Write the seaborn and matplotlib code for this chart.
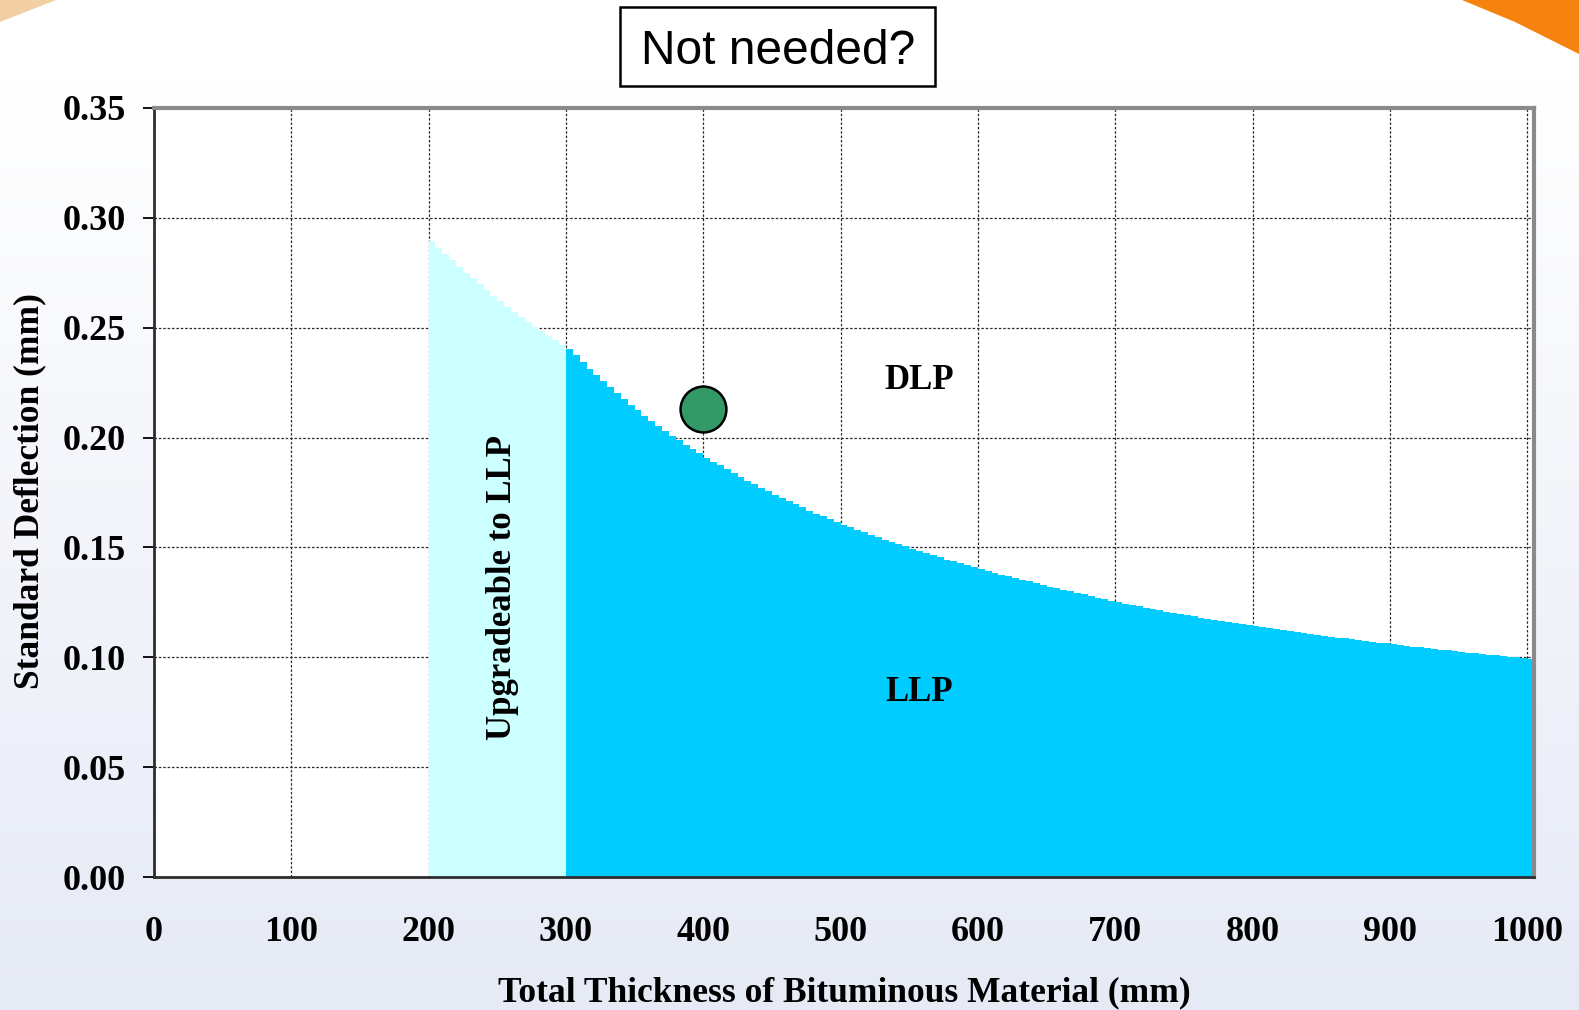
import numpy as np
import pandas as pd
import matplotlib
matplotlib.use("Agg")
import matplotlib.pyplot as plt
import seaborn as sns
from matplotlib.patches import Rectangle, Polygon
from matplotlib.ticker import FormatStrFormatter

# Deflection limit, stepped every 5 mm of bituminous thickness
upgrade_thickness = list(range(200, 300, 5))
upgrade_deflection = [
    0.2895, 0.2865, 0.2836, 0.2807, 0.2778, 0.2751, 0.2724, 0.2697, 0.2671, 0.2646,
    0.2621, 0.2596, 0.2573, 0.2550, 0.2527, 0.2505, 0.2484, 0.2463, 0.2443, 0.2423,
]

llp_thickness = list(range(300, 1005, 5))
llp_deflection = [
    0.2405, 0.2374, 0.2344, 0.2314, 0.2285, 0.2257, 0.2229, 0.2202, 0.2175, 0.2150,
    0.2124, 0.2100, 0.2076, 0.2053, 0.2030, 0.2009, 0.1987, 0.1967, 0.1947, 0.1928,
    0.1909, 0.1891, 0.1873, 0.1855, 0.1838, 0.1821, 0.1804, 0.1788, 0.1772, 0.1756,
    0.1740, 0.1725, 0.1710, 0.1696, 0.1682, 0.1668, 0.1654, 0.1641, 0.1628, 0.1616,
    0.1603, 0.1592, 0.1580, 0.1569, 0.1558, 0.1547, 0.1536, 0.1525, 0.1515, 0.1505,
    0.1494, 0.1484, 0.1474, 0.1465, 0.1455, 0.1445, 0.1436, 0.1427, 0.1418, 0.1409,
    0.1400, 0.1392, 0.1384, 0.1376, 0.1368, 0.1361, 0.1353, 0.1345, 0.1338, 0.1330,
    0.1322, 0.1315, 0.1308, 0.1300, 0.1293, 0.1286, 0.1278, 0.1271, 0.1264, 0.1257,
    0.1250, 0.1244, 0.1238, 0.1232, 0.1226, 0.1220, 0.1214, 0.1208, 0.1203, 0.1197,
    0.1192, 0.1186, 0.1181, 0.1176, 0.1170, 0.1165, 0.1160, 0.1155, 0.1151, 0.1146,
    0.1141, 0.1137, 0.1132, 0.1128, 0.1123, 0.1119, 0.1115, 0.1110, 0.1106, 0.1102,
    0.1098, 0.1094, 0.1090, 0.1086, 0.1082, 0.1078, 0.1074, 0.1070, 0.1067, 0.1063,
    0.1059, 0.1055, 0.1052, 0.1048, 0.1045, 0.1041, 0.1038, 0.1035, 0.1031, 0.1028,
    0.1025, 0.1021, 0.1018, 0.1015, 0.1012, 0.1009, 0.1006, 0.1003, 0.1000, 0.0997,
    0.0994,
]

# Measured pavement
design_thickness = [400]
design_deflection = [0.213]

x_ticks = [0, 100, 200, 300, 400, 500, 600, 700, 800, 900, 1000]
x_tick_marks = [0, 200, 400, 600, 800, 1000]
y_ticks = [0.00, 0.05, 0.10, 0.15, 0.20, 0.25, 0.30, 0.35]

upgrade_df = pd.DataFrame({"thickness": upgrade_thickness, "deflection": upgrade_deflection})
llp_df = pd.DataFrame({"thickness": llp_thickness, "deflection": llp_deflection})
design_df = pd.DataFrame({"thickness": design_thickness, "deflection": design_deflection})

sns.set_theme(style="white")
plt.rcParams["font.family"] = ["Liberation Serif", "DejaVu Serif"]
plt.rcParams["font.weight"] = "bold"
plt.rcParams["text.color"] = "black"
plt.rcParams["axes.labelcolor"] = "black"
plt.rcParams["xtick.color"] = "black"
plt.rcParams["ytick.color"] = "black"

W, H = 1579, 1010
fig = plt.figure(figsize=(W / 100, H / 100), dpi=100)

# Slide background: white fading to pale lavender, orange corner accents
bg = fig.add_axes([0, 0, 1, 1], zorder=-10)
t = np.linspace(0, 1, 400)[:, None]
ramp = np.clip((t - 0.08) / 0.92, 0, 1)
top_c = np.array([1.0, 1.0, 1.0])
bot_c = np.array([0.902, 0.918, 0.962])
img = top_c + (bot_c - top_c) * ramp[..., None]
img = np.repeat(img, 2, axis=1)
bg.imshow(img, aspect="auto", extent=[0, 1, 0, 1], origin="upper")
bg.add_patch(Polygon([(1462 / W, 1), (1, 1), (1, 1 - 54 / H), (1515 / W, 1 - 22 / H)],
                     closed=True, facecolor="#f5830d", edgecolor="none"))
bg.add_patch(Polygon([(0, 1), (56 / W, 1), (0, 1 - 22 / H)],
                     closed=True, facecolor="#f3cfa6", edgecolor="none"))
bg.set_xlim(0, 1)
bg.set_ylim(0, 1)
bg.axis("off")

ax = fig.add_axes([154 / W, 1 - 877 / H, 1380 / W, 769 / H])
ax.set_facecolor("white")

sns.histplot(data=upgrade_df, x="thickness", weights="deflection", binwidth=5,
             binrange=(200, 300), element="step", fill=True, color="#ccffff", alpha=1,
             linewidth=0, ax=ax)
sns.histplot(data=llp_df, x="thickness", weights="deflection", binwidth=5,
             binrange=(300, 1005), element="step", fill=True, color="#00ccff", alpha=1,
             linewidth=0, ax=ax)
sns.scatterplot(data=design_df, x="thickness", y="deflection", s=33 ** 2, color="#339966",
                edgecolor="black", linewidth=1.8, zorder=5, legend=False, ax=ax)

ax.set_xlim(0, 1005)
ax.set_ylim(0, 0.35)
ax.set_xlabel("")
ax.set_ylabel("")

ax.set_xticks(x_ticks)
ax.set_xticks(x_tick_marks, minor=True)
ax.xaxis.remove_overlapping_locs = False
ax.set_yticks(y_ticks)
ax.yaxis.set_major_formatter(FormatStrFormatter("%.2f"))
ax.tick_params(axis="x", which="major", length=0, pad=28, labelsize=26, labelcolor="black")
ax.tick_params(axis="x", which="minor", direction="inout", length=16, width=1.5, color="black")
ax.tick_params(axis="y", which="major", direction="out", length=8, width=1.3, pad=12,
               labelsize=26, labelcolor="black", color="black", left=True)
for lbl in ax.get_xticklabels() + ax.get_yticklabels():
    lbl.set_fontweight("bold")

ax.set_axisbelow(True)
ax.grid(True, which="major", color="#2a2a2a", linestyle=(0, (2, 1.5)), linewidth=0.9)

for side in ("top", "right"):
    ax.spines[side].set_color("#8a8a8a")
    ax.spines[side].set_linewidth(3)
for side in ("left", "bottom"):
    ax.spines[side].set_color("#2e2e2e")
    ax.spines[side].set_linewidth(2)

ax.text(557, 0.2223, "DLP", ha="center", va="baseline", fontsize=25, fontweight="bold",
        color="black")
ax.text(557, 0.0800, "LLP", ha="center", va="baseline", fontsize=25, fontweight="bold",
        color="black")
ax.text(260, 0.1318, "Upgradeable to LLP", ha="center", va="baseline", rotation=90,
        rotation_mode="anchor", fontsize=25, fontweight="bold", color="black")

fig.text(30 / W, 1 - 491.5 / H, "Standard Deflection (mm)", ha="center", va="center",
         rotation=90, rotation_mode="anchor", fontsize=25.5, fontweight="bold", color="black")
fig.text(844 / W, 1 - 1001.5 / H, "Total Thickness of Bituminous Material (mm)",
         ha="center", va="baseline", fontsize=25.5, fontweight="bold", color="black")

# Boxed heading above the chart
fig.patches.append(Rectangle((620 / W, 1 - 86 / H), 315 / W, 79 / H, transform=fig.transFigure,
                             facecolor="white", edgecolor="black", linewidth=1.8, zorder=3))
fig.text(778 / W, 1 - 64 / H, "Not needed?", ha="center", va="baseline", fontsize=34.5,
         fontweight="normal", family=["Liberation Sans", "DejaVu Sans"], color="black",
         zorder=4)

fig.savefig("out.png", dpi=100)
